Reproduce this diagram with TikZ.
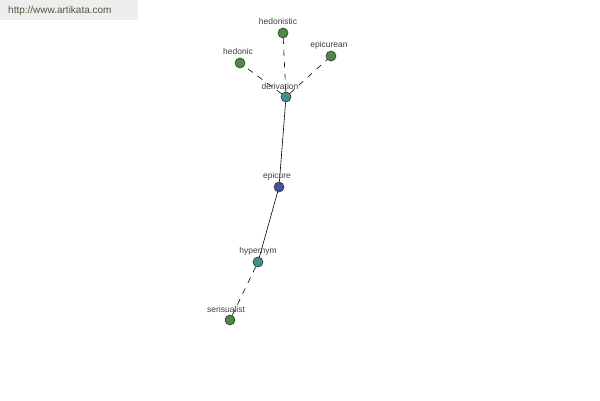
\documentclass[tikz,border=0pt]{standalone}
\usepackage{fontspec}
\setmainfont{Liberation Sans}
\definecolor{leafgreen}{HTML}{4E8A45}
\definecolor{tealc}{HTML}{3F8F8C}
\definecolor{bluec}{HTML}{44509A}
\definecolor{labelc}{HTML}{404040}
\definecolor{wmbg}{HTML}{EEEEEE}
\definecolor{wmtext}{HTML}{4A5A40}
\tikzset{
  x=1pt, y=-1pt,
  vert/.style={circle, draw=black!80, line width=0.6pt, minimum size=10pt, inner sep=0pt},
  lbl/.style={font=\fontsize{8.5}{10}\selectfont, text=labelc, inner sep=0pt},
  solidedge/.style={draw=black, line width=0.6pt},
  dashedge/.style={draw=black, line width=0.6pt, dash pattern=on 6pt off 6pt},
}
\begin{document}
\begin{tikzpicture}
\useasboundingbox (0,0) rectangle (600,400);
\fill[white] (0,0) rectangle (600,400);
\fill[wmbg] (0,0) rectangle (138,20);
\node[font=\fontsize{10}{12}\selectfont, text=wmtext, anchor=west, inner sep=0pt] (wm) at (8,11) {http://www.artikata.com};

\node[vert, fill=leafgreen] (hedonistic) at (283,33) {};
\node[vert, fill=leafgreen] (hedonic) at (240,63) {};
\node[vert, fill=leafgreen] (epicurean) at (331,56) {};
\node[vert, fill=tealc] (derivation) at (286,97) {};
\node[vert, fill=bluec] (epicure) at (279,187) {};
\node[vert, fill=tealc] (hypernym) at (258,262) {};
\node[vert, fill=leafgreen] (sensualist) at (230,320) {};

\draw[dashedge] (derivation) -- (hedonistic);
\draw[dashedge] (derivation) -- (hedonic);
\draw[dashedge] (derivation) -- (epicurean);
\draw[solidedge] (derivation) -- (epicure);
\draw[solidedge] (epicure) -- (hypernym);
\draw[dashedge] (hypernym) -- (sensualist);

\node[lbl] (lhedonistic) at (278,21) {hedonistic};
\node[lbl] (lhedonic) at (238,51) {hedonic};
\node[lbl] (lepicurean) at (329,45) {epicurean};
\node[lbl] (lderivation) at (280,86) {derivation};
\node[lbl] (lepicure) at (277,176) {epicure};
\node[lbl] (lhypernym) at (258,251) {hypernym};
\node[lbl] (lsensualist) at (226,309) {sensualist};
\end{tikzpicture}
\end{document}
